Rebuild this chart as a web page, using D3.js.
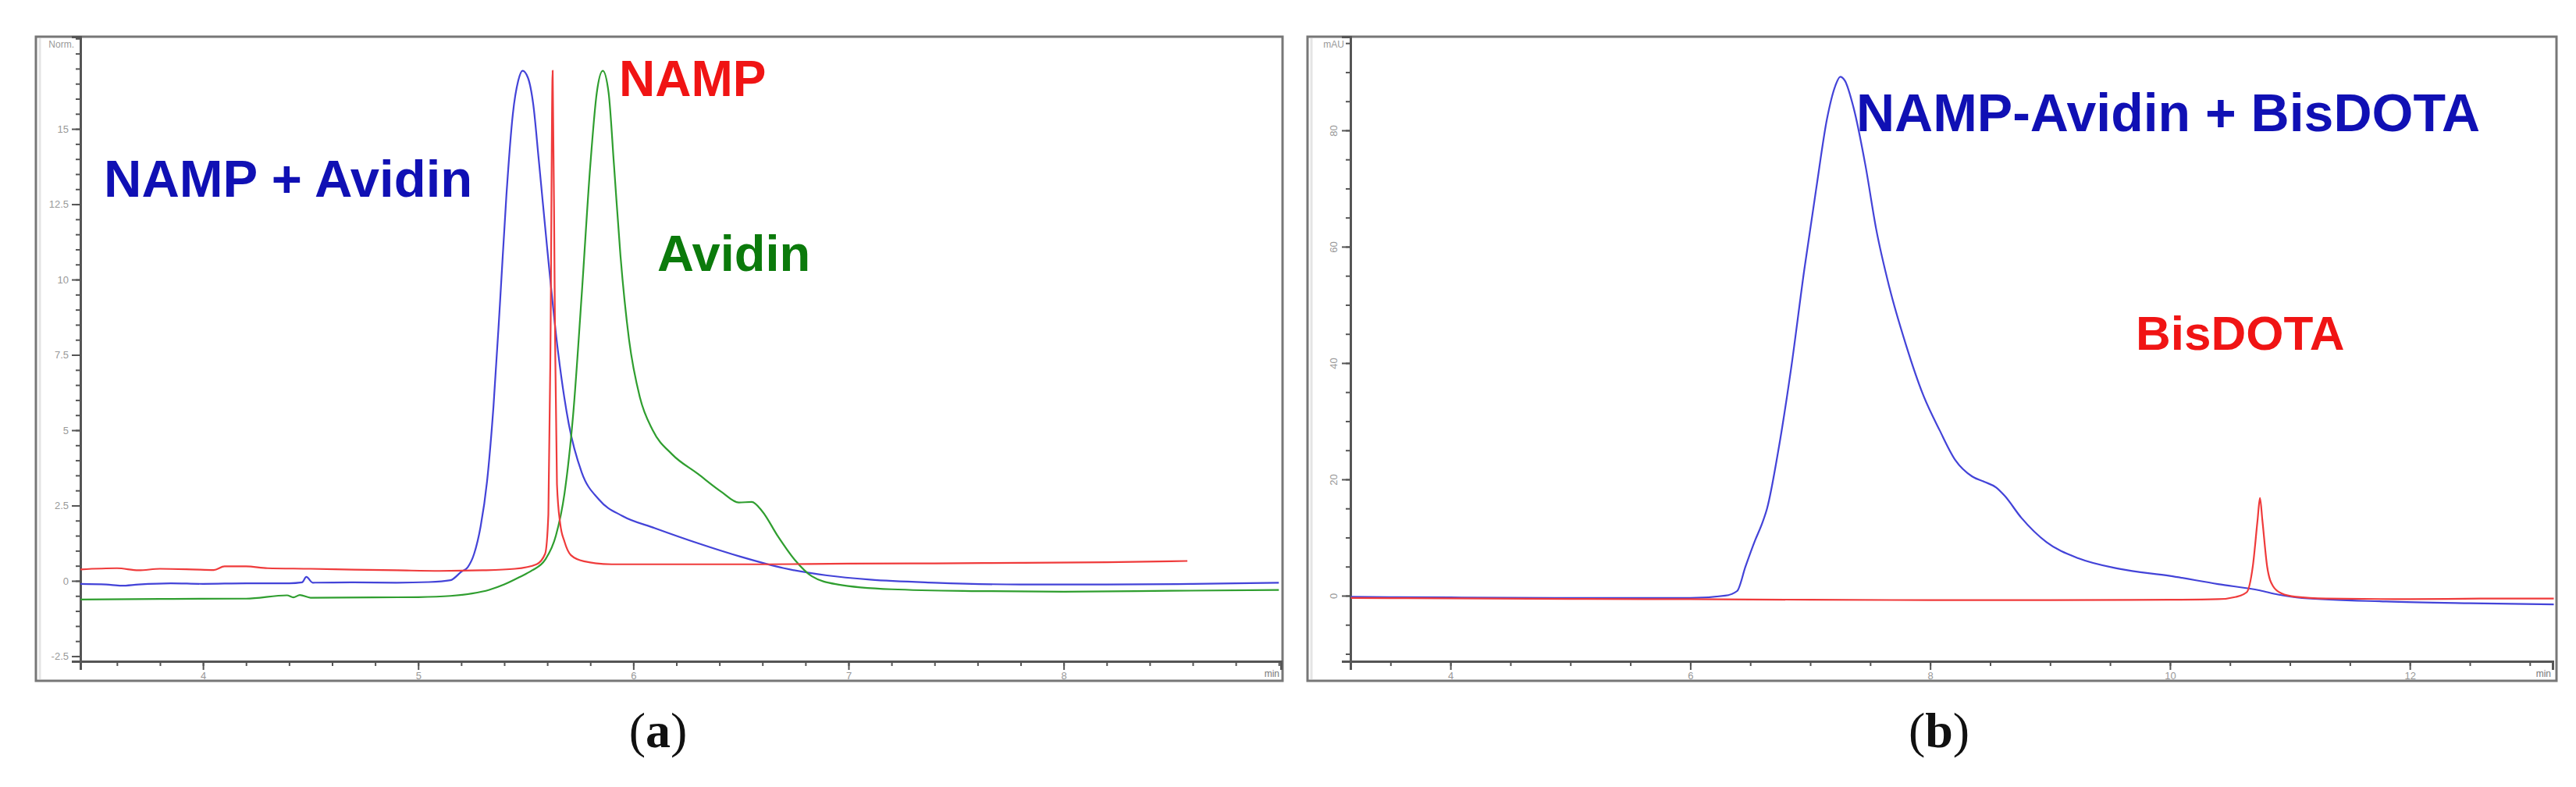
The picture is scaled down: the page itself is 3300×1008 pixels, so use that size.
<!DOCTYPE html>
<html>
<head>
<meta charset="utf-8">
<script src="https://cdn.jsdelivr.net/npm/d3@7"></script>
<style>
  body { margin: 0; background: #fff; }
  svg { display: block; }
</style>
</head>
<body>
<div id="chart"></div>
<script>
// ---- data: [time (min), signal] ----
// panel (a), normalised
var aNampAvidin = [[3.43,-0.10],[3.55,-0.12],[3.62,-0.16],[3.7,-0.12],[3.85,-0.08],[4.0,-0.1],[4.2,-0.08],[4.4,-0.08],[4.46,-0.05],[4.48,0.13],[4.51,-0.06],[4.7,-0.05],[4.9,-0.06],[5.05,-0.04],[5.15,0.02],[5.2,0.3],[5.23,0.45],[5.26,0.9],[5.29,1.8],[5.32,3.3],[5.35,5.8],[5.38,9.2],[5.41,12.8],[5.44,15.5],[5.465,16.6],[5.485,16.93],[5.51,16.7],[5.535,15.8],[5.56,14.0],[5.6,11.0],[5.65,7.6],[5.7,5.2],[5.76,3.6],[5.84,2.7],[5.95,2.15],[6.1,1.75],[6.3,1.25],[6.5,0.8],[6.7,0.42],[6.9,0.18],[7.1,0.04],[7.4,-0.06],[7.8,-0.12],[8.2,-0.12],[8.6,-0.1],[9.0,-0.06]]
var aNamp = [[3.43,0.38],[3.6,0.42],[3.7,0.35],[3.8,0.4],[3.95,0.38],[4.05,0.36],[4.1,0.48],[4.2,0.48],[4.3,0.42],[4.5,0.4],[4.7,0.37],[4.9,0.35],[5.1,0.33],[5.3,0.35],[5.45,0.4],[5.55,0.55],[5.59,0.9],[5.605,2.2],[5.615,8],[5.625,16.93],[5.635,9],[5.645,3.2],[5.66,1.9],[5.68,1.3],[5.71,0.85],[5.77,0.65],[5.9,0.55],[6.2,0.55],[6.6,0.55],[7.0,0.57],[7.4,0.58],[7.8,0.6],[8.2,0.62],[8.575,0.66]]
var aAvidin = [[3.43,-0.62],[3.8,-0.6],[4.2,-0.59],[4.39,-0.48],[4.42,-0.55],[4.45,-0.47],[4.5,-0.56],[4.8,-0.55],[5.0,-0.54],[5.15,-0.5],[5.25,-0.42],[5.33,-0.3],[5.4,-0.12],[5.47,0.12],[5.53,0.35],[5.59,0.7],[5.64,1.5],[5.68,2.9],[5.72,5.5],[5.76,9.5],[5.8,13.8],[5.83,16.2],[5.858,16.93],[5.885,16.2],[5.91,13.8],[5.94,10.8],[5.98,8.0],[6.03,6.1],[6.09,5.0],[6.18,4.2],[6.3,3.55],[6.41,2.95],[6.49,2.6],[6.55,2.62],[6.6,2.3],[6.67,1.5],[6.75,0.7],[6.83,0.15],[6.95,-0.12],[7.2,-0.28],[7.6,-0.34],[8.0,-0.36],[8.5,-0.33],[9.0,-0.3]]
// panel (b), mAU
var bComplex = [[3.17,-0.2],[4.0,-0.3],[5.0,-0.4],[6.0,-0.4],[6.29,0],[6.39,0.8],[6.46,5],[6.54,9.5],[6.6,12.5],[6.64,15],[6.73,24.5],[6.84,39],[6.95,56],[7.05,70],[7.14,82],[7.21,87.7],[7.25,89.2],[7.29,88.5],[7.36,84],[7.46,74],[7.55,63],[7.66,53],[7.8,43],[7.94,34.6],[8.08,28.4],[8.21,23.3],[8.35,20.5],[8.45,19.6],[8.55,18.6],[8.62,17.2],[8.76,13.4],[8.97,9.2],[9.24,6.4],[9.58,4.6],[10.0,3.4],[10.4,2.0],[10.75,0.9],[10.9,0.2],[11.1,-0.4],[11.8,-1.0],[12.5,-1.3],[13.2,-1.5]]
var bBisDota = [[3.17,-0.4],[4,-0.45],[5,-0.55],[6,-0.6],[7,-0.7],[8,-0.75],[9,-0.75],[10,-0.7],[10.4,-0.6],[10.55,-0.2],[10.64,0.6],[10.69,5],[10.73,13],[10.75,16.8],[10.77,13],[10.81,5],[10.86,1.6],[10.93,0.4],[11.05,-0.2],[11.3,-0.5],[12,-0.6],[12.6,-0.5],[13.2,-0.5]]

// axis ticks
var aXMajor = [4,5,6,7,8]
var aYMajor = [-2.5,0,2.5,5,7.5,10,12.5,15]
var aYLabels = ["-2.5","0","2.5","5","7.5","10","12.5","15"]
var bXMajor = [4,6,8,10,12]
var bYMajor = [0,20,40,60,80]
var aXDomain = [3.43, 9.01], aYDomain = [-2.67, 18.06]
var bXDomain = [3.166, 13.19], bYDomain = [-11.28, 96.1]

var width = 3300, height = 1008
var svg = d3.select("#chart").append("svg").attr("width", width).attr("height", height)

var blueLine = "#4343d8", redLine = "#ef3b3b", greenLine = "#2f9e2f"

function panel(opt){
	var x = d3.scaleLinear().domain(opt.xDomain).range([opt.left, opt.right])
	var y = d3.scaleLinear().domain(opt.yDomain).range([opt.bottom, opt.top])
	var g = svg.append("g")

	// outer frame
	g.append("rect").attr("x", opt.fx).attr("y", opt.top).attr("width", opt.fw).attr("height", opt.fh)
		.attr("fill", "none").attr("stroke", "#777").attr("stroke-width", 3)
	g.append("line").attr("x1", opt.fx + 5).attr("x2", opt.fx + 5).attr("y1", opt.top + 2).attr("y2", opt.top + opt.fh - 2)
		.attr("stroke", "#e4e4e4").attr("stroke-width", 3)

	// minor ticks
	g.append("g").attr("transform", "translate(0," + opt.bottom + ")")
		.call(d3.axisBottom(x).tickValues(opt.xMinor).tickSize(6).tickFormat(""))
	g.append("g").attr("transform", "translate(" + opt.left + ",0)")
		.call(d3.axisLeft(y).tickValues(opt.yMinor).tickSize(6).tickFormat(""))
	// major ticks
	var xa = g.append("g").attr("transform", "translate(0," + opt.bottom + ")")
		.call(d3.axisBottom(x).tickValues(opt.xMajor).tickSize(11).tickPadding(3).tickFormat(d3.format("d")))
	var ya = g.append("g").attr("transform", "translate(" + opt.left + ",0)")
		.call(d3.axisLeft(y).tickValues(opt.yMajor).tickSize(11).tickPadding(4)
			.tickFormat(function(d, i){ return opt.yLabels ? opt.yLabels[i] : d }))
	g.selectAll(".domain").attr("stroke", "#555").attr("stroke-width", 3)
	g.selectAll(".tick line").attr("stroke", "#555").attr("stroke-width", 2)
	g.selectAll(".tick text").style("font-family", "Liberation Sans").style("font-size", "13px").attr("fill", "#999")
	if(opt.rotateY){
		ya.selectAll(".tick text").attr("transform", "rotate(-90)").attr("x", 0).attr("y", -22)
			.attr("dy", "0.35em").style("text-anchor", "middle")
	}

	g.append("text").text(opt.unit).attr("x", opt.left - 8).attr("y", opt.top + 14)
		.attr("text-anchor", "end").style("font-family", "Liberation Sans").style("font-size", "12px").attr("fill", "#999")
	g.append("text").text("min").attr("x", opt.right - 2).attr("y", opt.bottom + 20)
		.attr("text-anchor", "end").style("font-family", "Liberation Sans").style("font-size", "12px").attr("fill", "#777")

	var line = d3.line().x(function(d){ return x(d[0]) }).y(function(d){ return y(d[1]) }).curve(d3.curveMonotoneX)
	opt.series.forEach(function(s){
		g.append("path").attr("d", line(s.data)).attr("fill", "none")
			.attr("stroke", s.color).attr("stroke-width", 2.2).attr("stroke-linejoin", "round")
	})
	opt.labels.forEach(function(l){
		g.append("text").text(l.text).attr("x", l.x).attr("y", l.y)
			.style("font-family", "Liberation Sans").style("font-weight", "bold")
			.style("font-size", l.size + "px").attr("fill", l.color)
	})

	g.append("text").attr("x", opt.capX).attr("y", 957).attr("text-anchor", "middle")
		.style("font-family", "Liberation Serif").style("font-size", "64px").attr("fill", "#111")
		.call(function(t){
			t.append("tspan").text("(")
			t.append("tspan").text(opt.cap).style("font-weight", "bold")
			t.append("tspan").text(")")
		})
}

function range(a, b, s){ return d3.range(Math.round(a / s), Math.round(b / s) + 1).map(function(k){ return +(k * s).toFixed(2) }) }

panel({
	xDomain: aXDomain, yDomain: aYDomain,
	left: 103, right: 1641, top: 47, bottom: 847,
	fx: 46, fw: 1597, fh: 825,
	xMajor: aXMajor, xMinor: range(3.6, 9.0, 0.2),
	yMajor: aYMajor, yLabels: aYLabels, yMinor: range(-2.5, 18, 0.5),
	unit: "Norm.", cap: "a", capX: 843,
	series: [
		{data: aNampAvidin, color: blueLine},
		{data: aAvidin, color: greenLine},
		{data: aNamp, color: redLine}
	],
	labels: [
		{text: "NAMP + Avidin", x: 133, y: 252, size: 67, color: "#1010b4"},
		{text: "NAMP", x: 793, y: 123, size: 64, color: "#f01414"},
		{text: "Avidin", x: 842, y: 347, size: 65, color: "#0b7a0b"}
	]
})

panel({
	xDomain: bXDomain, yDomain: bYDomain,
	left: 1730, right: 3270, top: 47, bottom: 847,
	fx: 1675, fw: 1600, fh: 825,
	xMajor: bXMajor, xMinor: range(3.5, 13, 0.5),
	yMajor: bYMajor, yMinor: range(-10, 95, 5), rotateY: true,
	unit: "mAU", cap: "b", capX: 2484,
	series: [
		{data: bComplex, color: blueLine},
		{data: bBisDota, color: redLine}
	],
	labels: [
		{text: "NAMP-Avidin + BisDOTA", x: 2378, y: 168, size: 68, color: "#1010b4"},
		{text: "BisDOTA", x: 2736, y: 448, size: 62, color: "#f01414"}
	]
})
</script>
</body>
</html>
